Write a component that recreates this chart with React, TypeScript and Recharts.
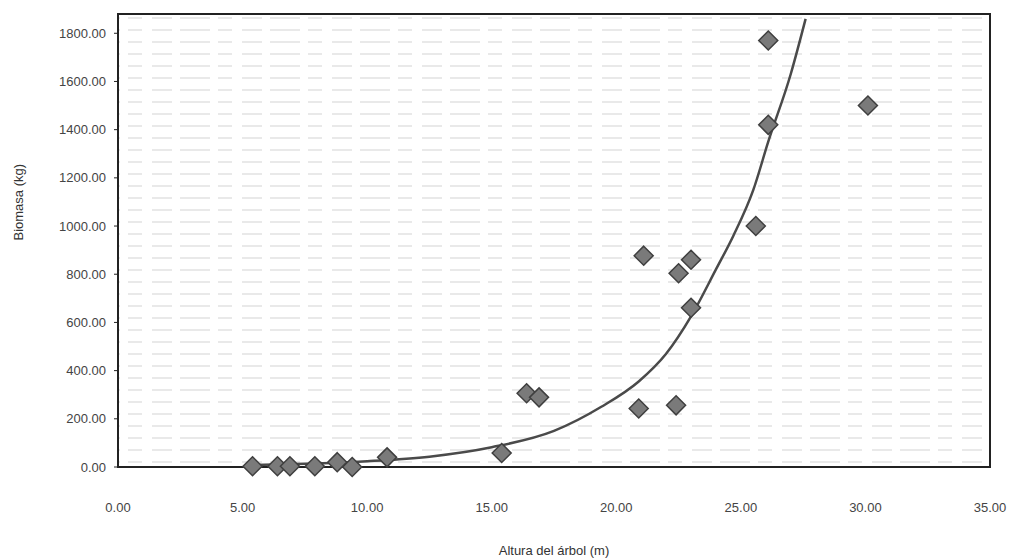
import { ScatterChart, Scatter, XAxis, YAxis, ZAxis, CartesianGrid, ReferenceArea } from "recharts";

// measured trees
const heights = [5.4, 6.4, 6.9, 7.9, 8.8, 9.4, 10.8, 15.4, 16.4, 16.9, 20.9, 22.4, 21.1, 22.5, 23.0, 23.0, 25.6, 26.1, 26.1, 30.1];
const biomass = [3, 3, 3, 3, 20, 0, 40, 58, 306, 289, 243, 256, 877, 804, 860, 661, 1000, 1420, 1770, 1500];

// exponential trend line
const trendX = [5.4, 7.5, 10, 12.5, 15, 17.5, 19.4, 20.9, 22, 23, 24, 24.7, 25.5, 26.1, 27, 27.6];
const trendY = [8, 13, 24, 43, 82, 150, 250, 355, 470, 625, 820, 960, 1150, 1350, 1630, 1860];

const xTicks = [0, 5, 10, 15, 20, 25, 30, 35];
const yTicks = [0, 200, 400, 600, 800, 1000, 1200, 1400, 1600, 1800];

const points = heights.map((h, i) => ({ x: h, y: biomass[i] }));
const trend = trendX.map((h, i) => ({ x: h, y: trendY[i] }));

const font = "'Liberation Sans', Arial, sans-serif";

const Diamond = (props: any) => {
  const { cx, cy } = props;
  if (cx == null || cy == null) return null;
  const r = 9.5;
  return (
    <polygon
      points={`${cx},${cy - r} ${cx + r},${cy} ${cx},${cy + r} ${cx - r},${cy}`}
      fill="#7a7a7a"
      stroke="#3f3f3f"
      strokeWidth={1.5}
    />
  );
};

const App = () => {
  return (
    <div style={{ position: "absolute", left: 0, top: 0, width: 1010, height: 559, background: "#fff" }}>
      <ScatterChart width={1010} height={559} margin={{ top: 14, right: 20, bottom: 0, left: 0 }}>
        <defs>
          <pattern id="streaks" width="90" height="12" patternUnits="userSpaceOnUse">
            <line x1="0" y1="6" x2="90" y2="6" stroke="#d4d4d4" strokeWidth={1.2} strokeDasharray="30 8 14 10 20 8" />
          </pattern>
        </defs>
        <CartesianGrid horizontal={false} vertical={false} fill="url(#streaks)" />
        <XAxis
          type="number"
          dataKey="x"
          domain={[0, 35]}
          ticks={xTicks}
          tickFormatter={(v: number) => v.toFixed(2)}
          tickLine={false}
          tickMargin={30}
          axisLine={{ stroke: "#222", strokeWidth: 2 }}
          tick={{ fontSize: 13, fill: "#444", fontFamily: font }}
          height={92}
          label={{ value: "Altura del árbol (m)", position: "insideBottom", offset: 4, fontSize: 13, fill: "#333", fontFamily: font }}
        />
        <YAxis
          type="number"
          dataKey="y"
          domain={[0, 1880]}
          ticks={yTicks}
          tickFormatter={(v: number) => v.toFixed(2)}
          tickSize={4}
          tickMargin={8}
          tickLine={{ stroke: "#222" }}
          axisLine={{ stroke: "#222", strokeWidth: 2 }}
          tick={{ fontSize: 13, fill: "#444", fontFamily: font }}
          width={118}
          label={{ value: "Biomasa (kg)", angle: -90, position: "insideLeft", offset: 18, fontSize: 13, fill: "#333", fontFamily: font }}
        />
        <ZAxis range={[120, 120]} />
        <ReferenceArea x1={0} x2={35} y1={0} y2={1880} fill="none" stroke="#222" strokeWidth={2} />
        <Scatter
          data={trend}
          line={{ stroke: "#4a4a4a", strokeWidth: 2.5 }}
          lineJointType="monotoneX"
          shape={() => null}
          isAnimationActive={false}
        />
        <Scatter data={points} shape={<Diamond />} isAnimationActive={false} />
      </ScatterChart>
    </div>
  );
};

export default App;
